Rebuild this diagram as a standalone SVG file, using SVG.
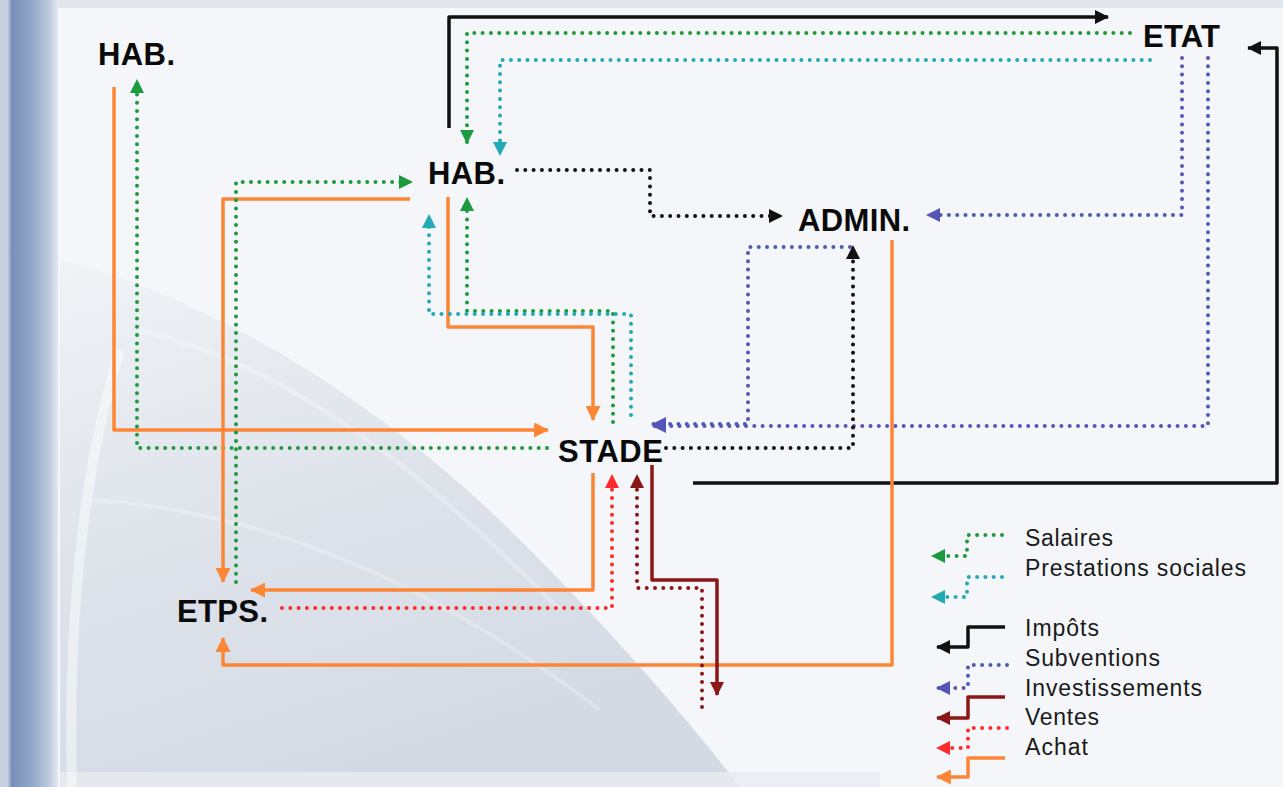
<svg xmlns="http://www.w3.org/2000/svg" width="1283" height="787" viewBox="0 0 1283 787">
  <defs>
    <style>
      .lbl { font-family: "Liberation Sans", Arial, sans-serif; font-weight: bold; font-size: 31px; fill: #0a0a0a; }
      .leg { font-family: "Liberation Sans", Arial, sans-serif; font-size: 23px; fill: #1a1a1a; }
      .c { fill: none; stroke-linejoin: round; }
      .solid { stroke-width: 3.5; }
      .dot { stroke-width: 4; stroke-dasharray: 0 8.3; stroke-linecap: round; }
      .green { stroke: #1c9a3e; }
      .teal { stroke: #22a9b3; }
      .black { stroke: #111111; }
      .blue { stroke: #5555b5; }
      .dred { stroke: #8c1616; }
      .red { stroke: #ff2b2b; }
      .orange { stroke: #fc8536; }
    </style>
    <linearGradient id="leftStrip" x1="0" y1="0" x2="1" y2="0">
      <stop offset="0" stop-color="#c7d1de"/>
      <stop offset="0.13" stop-color="#c7d1de"/>
      <stop offset="0.2" stop-color="#7890b8"/>
      <stop offset="0.55" stop-color="#92a8c9"/>
      <stop offset="0.85" stop-color="#bfcbdd"/>
      <stop offset="1" stop-color="#e4e9f0"/>
    </linearGradient>
    <linearGradient id="swirl" x1="0" y1="0" x2="0.4" y2="1">
      <stop offset="0" stop-color="#f0f3f6"/>
      <stop offset="0.5" stop-color="#dfe4eb"/>
      <stop offset="1" stop-color="#d4dae4"/>
    </linearGradient>
    <marker id="mGreen" viewBox="0 0 14 14" refX="13" refY="7" markerWidth="14" markerHeight="14" markerUnits="userSpaceOnUse" orient="auto"><path d="M0,0 L14,7 L0,14 z" fill="#1c9a3e"/></marker>
    <marker id="mTeal" viewBox="0 0 14 14" refX="13" refY="7" markerWidth="14" markerHeight="14" markerUnits="userSpaceOnUse" orient="auto"><path d="M0,0 L14,7 L0,14 z" fill="#22a9b3"/></marker>
    <marker id="mBlack" viewBox="0 0 14 14" refX="13" refY="7" markerWidth="14" markerHeight="14" markerUnits="userSpaceOnUse" orient="auto"><path d="M0,0 L14,7 L0,14 z" fill="#111111"/></marker>
    <marker id="mBlue" viewBox="0 0 14 14" refX="13" refY="7" markerWidth="14" markerHeight="14" markerUnits="userSpaceOnUse" orient="auto"><path d="M0,0 L14,7 L0,14 z" fill="#5555b5"/></marker>
    <marker id="mDred" viewBox="0 0 14 14" refX="13" refY="7" markerWidth="14" markerHeight="14" markerUnits="userSpaceOnUse" orient="auto"><path d="M0,0 L14,7 L0,14 z" fill="#8c1616"/></marker>
    <marker id="mRed" viewBox="0 0 14 14" refX="13" refY="7" markerWidth="14" markerHeight="14" markerUnits="userSpaceOnUse" orient="auto"><path d="M0,0 L14,7 L0,14 z" fill="#ff2b2b"/></marker>
    <marker id="mOrange" viewBox="0 0 14 14" refX="13" refY="7" markerWidth="15" markerHeight="15" markerUnits="userSpaceOnUse" orient="auto"><path d="M0,0 L14,7 L0,14 z" fill="#fc8536"/></marker>
  </defs>

  <g id="background">
    <rect x="0" y="0" width="1283" height="787" fill="#f4f6f9"/>
    <path d="M60,260 C220,300 390,410 520,540 C610,630 680,710 740,787 L60,787 Z" fill="url(#swirl)"/>
    <path d="M60,787 L880,787 L880,772 L60,772 Z" fill="#e9ecf0" opacity="0.8"/>
    <path d="M72,787 C68,630 80,480 120,350" fill="none" stroke="#ffffff" stroke-width="10" opacity="0.45"/>
    <path d="M140,330 C300,370 420,470 560,610" fill="none" stroke="#ffffff" stroke-width="5" opacity="0.25"/>
    <path d="M90,500 C260,510 430,580 600,710" fill="none" stroke="#ffffff" stroke-width="4" opacity="0.25"/>
    <rect x="0" y="0" width="1283" height="8" fill="#e2e7ee"/>
    <rect x="0" y="0" width="58" height="787" fill="url(#leftStrip)"/>
  </g>

  <g id="connectors">
    <path class="c solid black" d="M449,128 V17 H1108" marker-end="url(#mBlack)"/>
    <path class="c dot green" d="M1130,33 H467 V143" marker-end="url(#mGreen)"/>
    <path class="c dot teal" d="M1150,60 H500 V155" marker-end="url(#mTeal)"/>
    <path class="c dot black" d="M517,170 H650 V216 H782" marker-end="url(#mBlack)"/>
    <path class="c dot blue" d="M1182,58 V215 H927" marker-end="url(#mBlue)"/>
    <path class="c dot blue" d="M1208,58 V426 H653" marker-end="url(#mBlue)"/>
    <path class="c dot blue" d="M850,247 H748 V424 H653" marker-end="url(#mBlue)"/>
    <path class="c dot black" d="M666,448 H853 V246" marker-end="url(#mBlack)"/>
    <path class="c solid black" d="M693,483 H1277 V48 H1248" marker-end="url(#mBlack)"/>
    <path class="c solid orange" d="M892,240 V665 H223 V638" marker-end="url(#mOrange)"/>
    <path class="c solid orange" d="M114,87 V430 H548" marker-end="url(#mOrange)"/>
    <path class="c dot green" d="M547,448 H137 V80" marker-end="url(#mGreen)"/>
    <path class="c solid orange" d="M410,199 H223 V582" marker-end="url(#mOrange)"/>
    <path class="c dot green" d="M236,582 V182 H412" marker-end="url(#mGreen)"/>
    <path class="c solid orange" d="M448,197 V327 H593 V420" marker-end="url(#mOrange)"/>
    <path class="c dot green" d="M613,422 V311 H467 V198" marker-end="url(#mGreen)"/>
    <path class="c dot teal" d="M631,415 V314 H429 V215" marker-end="url(#mTeal)"/>
    <path class="c solid orange" d="M593,473 V590 H251" marker-end="url(#mOrange)"/>
    <path class="c dot red" d="M282,608 H612 V475" marker-end="url(#mRed)"/>
    <path class="c dot dred" d="M702,707 V588 H637 V475" marker-end="url(#mDred)"/>
    <path class="c solid dred" d="M652,465 V580 H717 V695" marker-end="url(#mDred)"/>
  </g>

  <g id="node-hab-left"><text class="lbl" x="98" y="65" textLength="77">HAB.</text></g>
  <g id="node-hab-center"><text class="lbl" x="428" y="184" textLength="77">HAB.</text></g>
  <g id="node-admin"><text class="lbl" x="798" y="231" textLength="112">ADMIN.</text></g>
  <g id="node-etat"><text class="lbl" x="1143" y="47" textLength="77">ETAT</text></g>
  <g id="node-stade"><text class="lbl" x="558" y="462" textLength="105">STADE</text></g>
  <g id="node-etps"><text class="lbl" x="177" y="622" textLength="91">ETPS.</text></g>

  <g id="legend">
    <path class="c dot green" d="M1002,535 H967 V556 H932" marker-end="url(#mGreen)"/>
    <path class="c dot teal" d="M1002,577 H967 V597 H932" marker-end="url(#mTeal)"/>
    <path class="c solid black" d="M1005,627 H968 V647 H937" marker-end="url(#mBlack)"/>
    <path class="c dot blue" d="M1007,665 H968 V688 H937" marker-end="url(#mBlue)"/>
    <path class="c solid dred" d="M1005,697 H968 V718 H937" marker-end="url(#mDred)"/>
    <path class="c dot red" d="M1007,728 H968 V748 H937" marker-end="url(#mRed)"/>
    <path class="c solid orange" d="M1005,758 H968 V777 H937" marker-end="url(#mOrange)"/>
    <text class="leg" x="1025" y="546" textLength="88">Salaires</text>
    <text class="leg" x="1025" y="576" textLength="221">Prestations sociales</text>
    <text class="leg" x="1025" y="636" textLength="74">Impôts</text>
    <text class="leg" x="1025" y="666" textLength="135">Subventions</text>
    <text class="leg" x="1025" y="696" textLength="177">Investissements</text>
    <text class="leg" x="1025" y="725" textLength="74">Ventes</text>
    <text class="leg" x="1025" y="755" textLength="63">Achat</text>
  </g>
</svg>
